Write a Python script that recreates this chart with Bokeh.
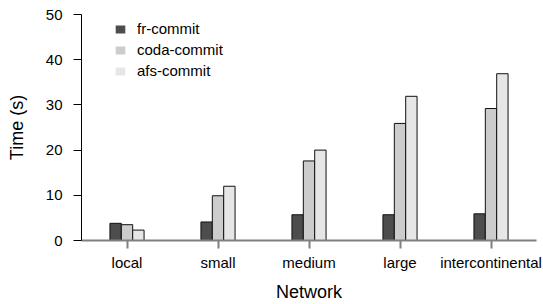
from bokeh.plotting import figure
from bokeh.models import ColumnDataSource, FactorRange, FixedTicker, Legend, LegendItem
from bokeh.transform import dodge
from bokeh.embed import file_html
from bokeh.resources import INLINE

networks = ["local", "small", "medium", "large", "intercontinental"]
fr_commit = [3.8, 4.1, 5.7, 5.7, 5.9]
coda_commit = [3.5, 9.9, 17.6, 25.9, 29.2]
afs_commit = [2.3, 12.0, 20.0, 31.9, 36.9]
y_ticks = [0, 10, 20, 30, 40, 50]

series_names = ["fr-commit", "coda-commit", "afs-commit"]
series_cols = ["fr", "coda", "afs"]
colors = ["#4d4d4d", "#cccccc", "#e6e6e6"]
offsets = [-0.125, 0.0, 0.125]

src = ColumnDataSource(dict(network=networks, fr=fr_commit, coda=coda_commit, afs=afs_commit))

FONT = "Liberation Sans"

p = figure(x_range=FactorRange(*networks, range_padding=0), y_range=(0, 50),
           width=543, height=304, output_backend="svg", toolbar_location=None,
           min_border_left=81, min_border_right=7, min_border_top=14, min_border_bottom=63)
p.outline_line_color = None
p.xgrid.grid_line_color = None
p.ygrid.grid_line_color = None
p.background_fill_color = "white"

items = []
for col, name, c, off in zip(series_cols, series_names, colors, offsets):
    r = p.vbar(x=dodge("network", off, range=p.x_range), top=col, width=0.125, source=src,
               fill_color=c, line_color=None)
    p.vbar(x=dodge("network", off, range=p.x_range), top=col, width=0.125, source=src,
           fill_color=None, line_color="#111111", line_width=1)
    items.append(LegendItem(label=name, renderers=[r]))

legend = Legend(items=items, location=(33, 161), padding=0, margin=0, spacing=4,
                glyph_width=12, glyph_height=10, label_standoff=11,
                label_text_font=FONT, label_text_font_size="15px", label_text_color="black",
                border_line_color=None, background_fill_alpha=0)
p.add_layout(legend, "center")

# y axis
ya = p.yaxis[0]
ya.ticker = FixedTicker(ticks=y_ticks)
ya.minor_tick_line_color = None
ya.major_tick_out = 8
ya.major_tick_in = 0
ya.axis_line_color = "black"
ya.major_tick_line_color = "black"
ya.major_label_text_font = FONT
ya.major_label_text_font_size = "15px"
ya.major_label_text_color = "black"
ya.major_label_standoff = 11
ya.axis_label = "Time (s)"
ya.axis_label_text_font = FONT
ya.axis_label_text_font_size = "18px"
ya.axis_label_text_font_style = "normal"
ya.axis_label_text_color = "black"
ya.axis_label_standoff = 16

# x axis
xa = p.xaxis[0]
xa.axis_line_color = "#808080"
xa.axis_line_width = 2
xa.major_tick_line_color = "#808080"
xa.major_tick_line_width = 2
xa.major_tick_out = 8
xa.major_tick_in = 0
xa.minor_tick_line_color = None
xa.major_label_text_font = FONT
xa.major_label_text_font_size = "15px"
xa.major_label_text_color = "black"
xa.major_label_standoff = 5
xa.axis_label = "Network"
xa.axis_label_text_font = FONT
xa.axis_label_text_font_size = "18px"
xa.axis_label_text_font_style = "normal"
xa.axis_label_text_color = "black"
xa.axis_label_standoff = 8

open("out.html", "w").write(file_html(p, INLINE))
